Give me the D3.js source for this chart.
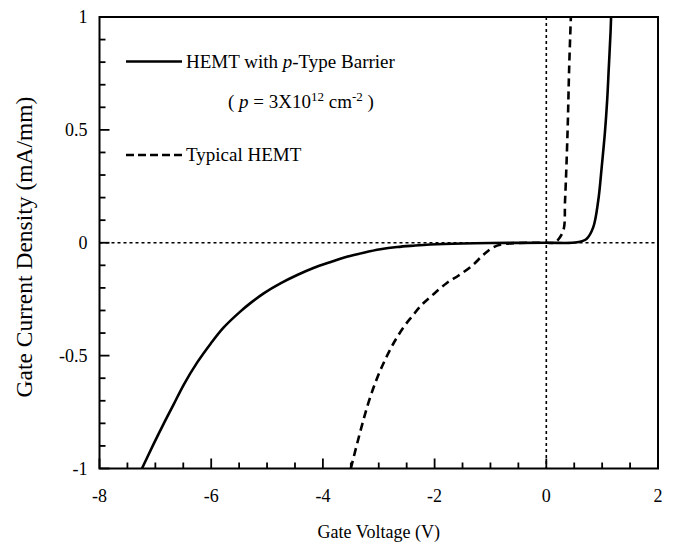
<!DOCTYPE html>
<html><head><meta charset="utf-8">
<script src="https://cdn.jsdelivr.net/npm/d3@7"></script>
<style>body{margin:0;background:#fff;} svg{display:block;} text{font-family:"Liberation Serif","Times New Roman",serif;fill:#000;}</style>
</head><body><svg id="c" width="673" height="543"></svg>
<script>
const pBarrierV = [-7.24,-7.03,-6.85,-6.67,-6.49,-6.25,-6.01,-5.78,-5.48,-5.27,-5.06,-4.76,-4.46,-4.17,-3.87,-3.57,-3.27,-2.97,-2.67,-2.38,-2.08,-1.5,-1.0,0.0,0.55,0.72,0.84,0.93,0.99,1.05,1.09,1.12,1.15,1.16];
const pBarrierI = [-1,-0.891,-0.801,-0.715,-0.628,-0.530,-0.447,-0.376,-0.305,-0.262,-0.224,-0.180,-0.143,-0.112,-0.086,-0.062,-0.044,-0.029,-0.019,-0.013,-0.008,-0.003,-0.001,0,0.002,0.017,0.068,0.187,0.33,0.49,0.632,0.78,0.93,1];
const typicalV = [-3.50,-3.33,-3.18,-3.03,-2.88,-2.73,-2.55,-2.40,-2.23,-2.02,-1.78,-1.57,-1.33,-1.12,-0.95,-0.77,-0.5,0,0.15,0.20,0.306,0.336,0.38,0.41,0.44];
const typicalI = [-1,-0.836,-0.705,-0.600,-0.515,-0.443,-0.372,-0.325,-0.275,-0.228,-0.178,-0.145,-0.102,-0.052,-0.020,-0.006,-0.001,0,0,0.01,0.055,0.188,0.486,0.78,1];
const xTicks = [-8,-6,-4,-2,0,2];
const yTicks = [1,0.5,0,-0.5,-1];
const xLabel = "Gate Voltage (V)";
const yLabel = "Gate Current Density (mA/mm)";

const svg = d3.select("#c");
const L=99.5, R=658, T=17, B=468.5;
const x = d3.scaleLinear().domain([-8,2]).range([L,R]);
const y = d3.scaleLinear().domain([-1,1]).range([B,T]);

svg.append("clipPath").attr("id","clip").append("rect").attr("x",L).attr("y",T).attr("width",R-L).attr("height",B-T);

// dotted zero lines
svg.append("line").attr("x1",L).attr("x2",R).attr("y1",y(0)).attr("y2",y(0)).attr("stroke","#000").attr("stroke-width",1.6).attr("stroke-dasharray","3,3");
svg.append("line").attr("x1",x(0)).attr("x2",x(0)).attr("y1",T).attr("y2",B).attr("stroke","#000").attr("stroke-width",1.6).attr("stroke-dasharray","3,3");

// ticks
const g = svg.append("g");
d3.range(-8,2.001,0.5).forEach(v=>{
  const major = Math.abs(v/2-Math.round(v/2))<1e-6;
  g.append("line").attr("x1",x(v)).attr("x2",x(v)).attr("y1",B).attr("y2",B-(major?10:6)).attr("stroke","#000").attr("stroke-width",1.8);
});
d3.range(-1,1.001,0.1).forEach(v=>{
  const major = Math.abs(v*2-Math.round(v*2))<1e-6;
  g.append("line").attr("x1",L).attr("x2",L+(major?10:6)).attr("y1",y(v)).attr("y2",y(v)).attr("stroke","#000").attr("stroke-width",1.8);
});
xTicks.forEach(v=>{
  g.append("text").attr("x",x(v)).attr("y",B+33).attr("text-anchor","middle").attr("font-size",18).text(v);
});
yTicks.forEach(v=>{
  g.append("text").attr("x",L-12).attr("y",y(v)+6).attr("text-anchor","end").attr("font-size",18).text(v);
});

// curves
const line = d3.line().x(d=>x(d[0])).y(d=>y(d[1])).curve(d3.curveCatmullRom.alpha(0.5));
const solidData = pBarrierV.map((v,i)=>[v,pBarrierI[i]]);
const dashData = typicalV.map((v,i)=>[v,typicalI[i]]);
const cg = svg.append("g").attr("clip-path","url(#clip)");
cg.append("path").attr("d",line(solidData)).attr("fill","none").attr("stroke","#000").attr("stroke-width",2.6);
cg.append("path").attr("d",line(dashData)).attr("fill","none").attr("stroke","#000").attr("stroke-width",2.6).attr("stroke-dasharray","8,5");

// frame
svg.append("rect").attr("x",L).attr("y",T).attr("width",R-L).attr("height",B-T).attr("fill","none").attr("stroke","#000").attr("stroke-width",2);

// legend
svg.append("line").attr("x1",126).attr("x2",182).attr("y1",61.5).attr("y2",61.5).attr("stroke","#000").attr("stroke-width",2.6);
const t1 = svg.append("text").attr("x",186).attr("y",68).attr("font-size",19);
t1.append("tspan").text("HEMT with ");
t1.append("tspan").attr("font-style","italic").text("p");
t1.append("tspan").text("-Type Barrier");
const t2 = svg.append("text").attr("x",228).attr("y",108).attr("font-size",19);
t2.append("tspan").text("( ");
t2.append("tspan").attr("font-style","italic").text("p");
t2.append("tspan").text(" = 3X10");
t2.append("tspan").attr("font-size",13).attr("dy",-7).text("12");
t2.append("tspan").attr("dy",7).text(" cm");
t2.append("tspan").attr("font-size",13).attr("dy",-7).text("-2");
t2.append("tspan").attr("dy",7).text(" )");
svg.append("line").attr("x1",126).attr("x2",182).attr("y1",155).attr("y2",155).attr("stroke","#000").attr("stroke-width",2.6).attr("stroke-dasharray","8,4");
svg.append("text").attr("x",186).attr("y",161).attr("font-size",19).text("Typical HEMT");

// axis titles
svg.append("text").attr("x",(L+R)/2).attr("y",538).attr("text-anchor","middle").attr("font-size",18).text(xLabel);
svg.append("text").attr("transform",`translate(32,247) rotate(-90)`).attr("text-anchor","middle").attr("font-size",23.5).text(yLabel);
</script></body></html>
